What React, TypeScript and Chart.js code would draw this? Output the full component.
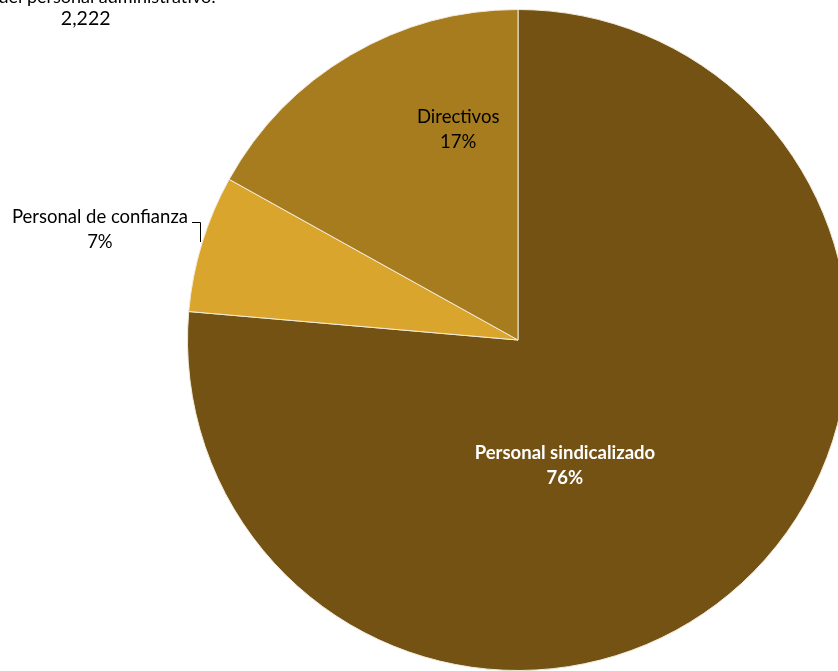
import React, { useEffect, useRef } from "react";
import { Chart, registerables } from "chart.js";

Chart.register(...registerables);

const categories = ["Personal sindicalizado", "Personal de confianza", "Directivos"];
const values = [1697, 149, 376];
const percentLabels = ["76%", "7%", "17%"];
const titleLines = ["Total del personal administrativo:", "2,222"];

const colors = ["#735214", "#DAA52D", "#A67C1E"];
// label offsets from pie centre, in units of radius
const labelOffsets = [
  { dx: 0.142, dy: 0.38 },
  { dx: -1.265, dy: -0.333 },
  { dx: -0.181, dy: -0.634 },
];
const labelStyles = [
  { color: "#ffffff", weight: "bold" },
  { color: "#000000", weight: "normal" },
  { color: "#000000", weight: "normal" },
];

const FONT = "Lato, 'Open Sans', sans-serif";

const labelPlugin = {
  id: "pieLabels",
  afterDraw(chart: any) {
    const ctx = chart.ctx;
    const meta = chart.getDatasetMeta(0);
    const arc0 = meta.data[0];
    const cx = arc0.x;
    const cy = arc0.y;
    const r = arc0.outerRadius;
    ctx.save();
    ctx.textAlign = "center";
    ctx.textBaseline = "middle";
    categories.forEach((name, i) => {
      const off = labelOffsets[i];
      const x = cx + off.dx * r;
      const y = cy + off.dy * r;
      const st = labelStyles[i];
      ctx.fillStyle = st.color;
      ctx.font = `${st.weight} 18.5px ${FONT}`;
      ctx.fillText(name, x, y - 13);
      ctx.fillText(percentLabels[i], x, y + 12);
      if (i === 1) {
        const w = ctx.measureText(name).width;
        const lx = Math.round(x + w / 2 + 4);
        const ly = Math.round(y - 8);
        ctx.strokeStyle = "#000000";
        ctx.lineWidth = 1;
        ctx.beginPath();
        ctx.moveTo(lx, ly + 0.5);
        ctx.lineTo(lx + 8.5, ly + 0.5);
        ctx.lineTo(lx + 8.5, ly + 20);
        ctx.stroke();
      }
    });
    // title (partially cut at top)
    ctx.fillStyle = "#000000";
    const tx = cx - 1.308 * r;
    ctx.font = `normal 18px ${FONT}`;
    ctx.fillText(titleLines[0], tx, -3);
    ctx.font = `normal 19.5px ${FONT}`;
    ctx.fillText(titleLines[1], tx, 19);
    ctx.restore();
  },
};

export default function App() {
  const ref = useRef<HTMLCanvasElement | null>(null);
  useEffect(() => {
    if (!ref.current) return;
    const chart = new Chart(ref.current, {
      type: "pie",
      data: {
        labels: categories,
        datasets: [
          {
            data: values,
            backgroundColor: colors,
            borderColor: "#f2ead8",
            borderWidth: 1,
          },
        ],
      },
      options: {
        responsive: false,
        animation: false,
        layout: { padding: 9 },
        plugins: {
          legend: { display: false },
          tooltip: { enabled: false },
          title: { display: false },
        },
      },
      plugins: [labelPlugin],
    });
    return () => chart.destroy();
  }, []);
  return (
    <div
      style={{
        position: "fixed",
        left: 0,
        top: 0,
        width: 838,
        height: 671,
        overflow: "hidden",
        background: "#ffffff",
      }}
    >
      <canvas
        ref={ref}
        width={1036}
        height={680}
        style={{ position: "absolute", left: 0, top: 0, width: 1036, height: 680 }}
      />
    </div>
  );
}
